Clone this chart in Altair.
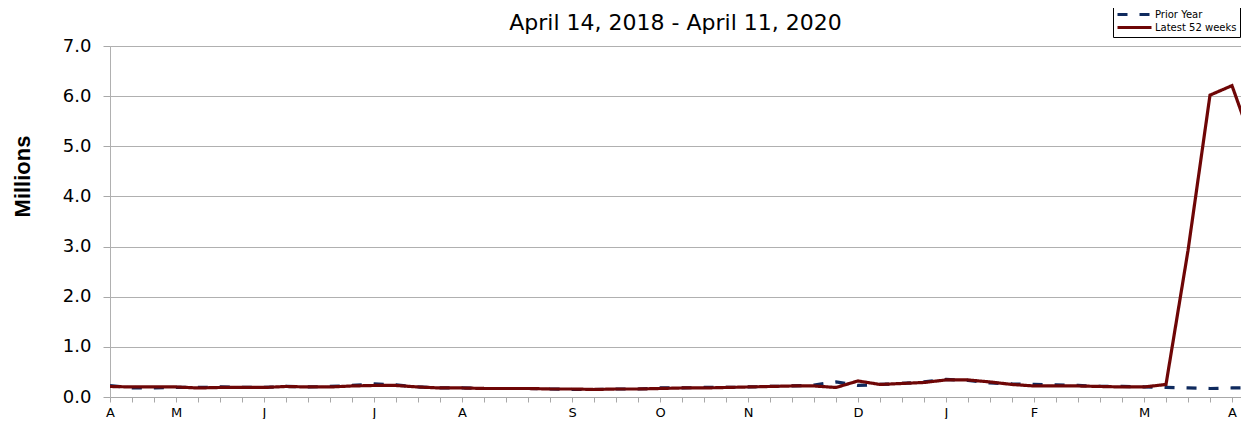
import altair as alt
import pandas as pd

# ---- data (millions of initial claims, weekly) ----
weeks = list(range(53))
latest = [0.21, 0.20, 0.20, 0.20, 0.18, 0.19, 0.19, 0.19, 0.21, 0.20,
          0.20, 0.22, 0.23, 0.23, 0.20, 0.18, 0.18, 0.17, 0.17, 0.17,
          0.16, 0.16, 0.15, 0.16, 0.16, 0.17, 0.18, 0.18, 0.19, 0.20,
          0.21, 0.22, 0.22, 0.19, 0.32, 0.25, 0.27, 0.29, 0.34, 0.34,
          0.30, 0.25, 0.22, 0.22, 0.22, 0.21, 0.20, 0.20, 0.25, 2.92,
          6.02, 6.21, 4.97]
prior = [0.23, 0.18, 0.18, 0.19, 0.19, 0.20, 0.19, 0.19, 0.21, 0.20,
         0.21, 0.23, 0.26, 0.24, 0.20, 0.18, 0.18, 0.17, 0.17, 0.17,
         0.16, 0.15, 0.15, 0.16, 0.16, 0.18, 0.18, 0.19, 0.19, 0.20,
         0.21, 0.22, 0.24, 0.30, 0.23, 0.25, 0.27, 0.30, 0.35, 0.33,
         0.28, 0.26, 0.25, 0.24, 0.23, 0.21, 0.21, 0.20, 0.19, 0.18,
         0.17, 0.18, 0.19]
series_names = ["Prior Year", "Latest 52 weeks"]
series_colors = ["#0f2a5e", "#6e0606"]
month_labels = ["A", "M", "J", "J", "A", "S", "O", "N", "D", "J", "F", "M", "A"]
month_weeks = [0, 3, 7, 12, 16, 21, 25, 29, 34, 38, 42, 47, 51]
y_ticks = [0, 1, 2, 3, 4, 5, 6, 7]

rows = []
for name, vals in zip(series_names, [prior, latest]):
    for w, v in zip(weeks, vals):
        rows.append({"week": w, "value": v, "series": name})
df = pd.DataFrame(rows)

wk = "[" + ",".join(str(w) for w in month_weeks) + "]"
lb = "[" + ",".join("'" + m + "'" for m in month_labels) + "]"
label_expr = f"indexof({wk}, datum.value) >= 0 ? {lb}[indexof({wk}, datum.value)] : ''"

W = 1131
H = 351
x_max = W / 22.0  # one week = 22 px; the right end of the panel cuts the last week

chart = alt.Chart(df).mark_line(strokeWidth=3.2, clip=True).encode(
    x=alt.X("week:Q",
            scale=alt.Scale(domain=[0, x_max], nice=False, zero=False),
            axis=alt.Axis(values=list(range(0, 52)), labelExpr=label_expr,
                          title=None, grid=False, tickSize=5, tickColor="#a8a8a8",
                          domainColor="#a8a8a8", labelFont="DejaVu Sans",
                          labelFontSize=13, labelColor="#000000", labelPadding=4,
                          labelFlush=False, labelOverlap=False, labelBound=False)),
    y=alt.Y("value:Q",
            scale=alt.Scale(domain=[0, 7], nice=False),
            axis=alt.Axis(values=y_ticks, format=".1f", title="Millions",
                          grid=True, gridColor="#b0b0b0", tickColor="#a8a8a8",
                          domainColor="#b0b0b0", tickSize=7, labelPadding=12,
                          labelFont="DejaVu Sans", labelFontSize=18,
                          labelColor="#000000", labelFlush=False,
                          titleFont="Liberation Sans", titleFontSize=22,
                          titleFontWeight="bold", titleColor="#000000",
                          titleAngle=270, titleX=-88, titleY=130,
                          titleAlign="center", titleBaseline="middle")),
    color=alt.Color("series:N",
                    scale=alt.Scale(domain=series_names, range=series_colors),
                    sort=series_names,
                    legend=alt.Legend(title=None, orient="none", legendX=1003, legendY=-41,
                                      strokeColor="#000000", fillColor="#ffffff",
                                      padding=3, rowPadding=-3, symbolType="M-1,0H5.8",
                                      symbolSize=100, symbolStrokeWidth=3,
                                      labelFont="DejaVu Sans", labelFontSize=10,
                                      labelColor="#000000", labelOffset=26,
                                      cornerRadius=0)),
    strokeDash=alt.StrokeDash("series:N",
                              scale=alt.Scale(domain=series_names, range=[[10, 12], [1, 0]]),
                              sort=series_names, legend=None),
).properties(
    width=W, height=H,
    title=alt.TitleParams("April 14, 2018 - April 11, 2020", anchor="middle",
                          font="DejaVu Sans", fontSize=22, fontWeight="normal",
                          color="#000000", baseline="alphabetic", offset=0, dy=47),
    autosize=alt.AutoSizeParams(type="none"),
    padding={"left": 102, "top": 38, "right": 0, "bottom": 22},
).configure_view(stroke=None).configure(background="#ffffff")

chart.save("out.html", embed_options={"renderer": "svg", "actions": False})
